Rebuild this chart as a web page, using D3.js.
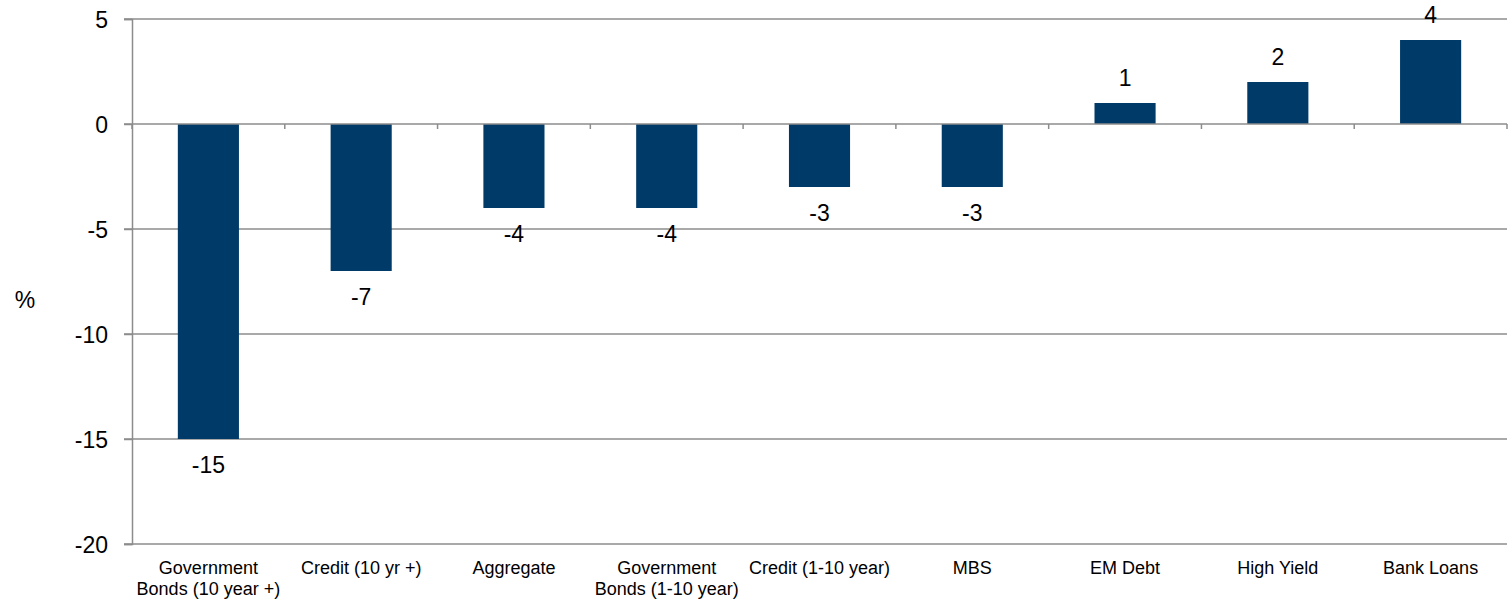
<!DOCTYPE html>
<html>
<head>
<meta charset="utf-8">
<script src="https://cdn.jsdelivr.net/npm/d3@7"></script>
<style>
  body { margin: 0; background: #fff; }
  text { font-family: "Liberation Sans", Arial, sans-serif; fill: #000; }
</style>
</head>
<body>
<svg id="chart"></svg>
<script>
// data
const categories = [
  ["Government", "Bonds (10 year +)"],
  ["Credit (10 yr +)"],
  ["Aggregate"],
  ["Government", "Bonds (1-10 year)"],
  ["Credit (1-10 year)"],
  ["MBS"],
  ["EM Debt"],
  ["High Yield"],
  ["Bank Loans"]
];
const values = [-15, -7, -4, -4, -3, -3, 1, 2, 4];
const yTicks = [5, 0, -5, -10, -15, -20];

var width = 1509, height = 599;
var svg = d3.select("#chart").attr("width", width).attr("height", height);

// plot area edges (window.top is reserved, so no "top" here)
var plotL = 132, plotR = 1507, plotT = 19, plotB = 544;
var gray = "#8c8c8c", barColor = "#003a68";

var x = d3.scaleBand()
    .domain(d3.range(categories.length))
    .range([plotL, plotR])
    .paddingInner(0.6)
    .paddingOuter(0.3);
var xc = d3.scaleBand().domain(d3.range(categories.length)).range([plotL, plotR]);

var y = d3.scaleLinear().domain([-20, 5]).range([plotB, plotT]);

// gridlines
svg.append("g")
  .selectAll("line")
  .data(yTicks.filter(d => d !== 0))
  .enter().append("line")
  .attr("x1", plotL - 8).attr("x2", plotR)
  .attr("y1", d => y(d)).attr("y2", d => y(d))
  .attr("stroke", gray).attr("stroke-width", 1.5);

// y axis (plain hyphen for minus, as in the original)
var yAxis = svg.append("g")
  .attr("transform", "translate(" + plotL + ",0)")
  .call(d3.axisLeft(y).tickValues(yTicks).tickSize(8).tickPadding(16).tickFormat(d => String(d)));
yAxis.select(".domain").attr("stroke", gray).attr("stroke-width", 1.5);
yAxis.selectAll(".tick line").attr("stroke", gray).attr("stroke-width", 1.5);
yAxis.selectAll(".tick text")
  .attr("font-size", 23)
  .attr("font-family", "Liberation Sans, Arial, sans-serif")
  .attr("dy", "0.36em");

svg.append("text")
  .attr("x", 25).attr("y", y(-8.75))
  .attr("text-anchor", "middle")
  .attr("font-size", 23)
  .text("%");

// bars
svg.append("g")
  .selectAll("rect")
  .data(values)
  .enter().append("rect")
  .attr("x", (d, i) => x(i))
  .attr("width", x.bandwidth())
  .attr("y", d => y(Math.max(0, d)))
  .attr("height", d => Math.abs(y(d) - y(0)))
  .attr("fill", barColor);

// zero axis with category ticks
svg.append("line")
  .attr("x1", plotL - 8).attr("x2", plotR)
  .attr("y1", y(0)).attr("y2", y(0))
  .attr("stroke", gray).attr("stroke-width", 1.5);
svg.append("g")
  .selectAll("line")
  .data(d3.range(categories.length + 1))
  .enter().append("line")
  .attr("x1", i => plotL + i * xc.step()).attr("x2", i => plotL + i * xc.step())
  .attr("y1", y(0)).attr("y2", y(0) + 5)
  .attr("stroke", gray).attr("stroke-width", 1.5);

// value labels
svg.append("g")
  .selectAll("text")
  .data(values)
  .enter().append("text")
  .attr("x", (d, i) => x(i) + x.bandwidth() / 2)
  .attr("y", d => d >= 0 ? y(d) - 17 : y(d) + 34)
  .attr("text-anchor", "middle")
  .attr("font-size", 23)
  .text(d => d);

// category labels
var cat = svg.append("g")
  .selectAll("text")
  .data(categories)
  .enter().append("text")
  .attr("x", (d, i) => xc(i) + xc.bandwidth() / 2)
  .attr("y", 574)
  .attr("text-anchor", "middle")
  .attr("font-size", 18);
cat.selectAll("tspan")
  .data(d => d)
  .enter().append("tspan")
  .attr("x", function() { return d3.select(this.parentNode).attr("x"); })
  .attr("dy", (d, i) => i === 0 ? 0 : 21)
  .text(d => d);
</script>
</body>
</html>
